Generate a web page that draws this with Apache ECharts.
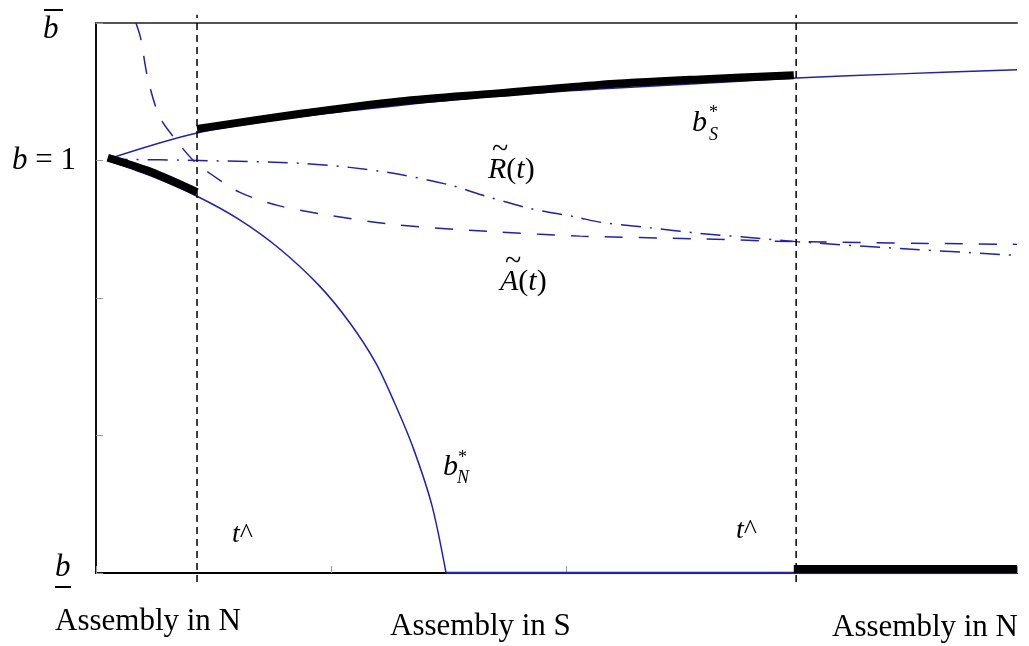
<!DOCTYPE html>
<html>
<head>
<meta charset="utf-8">
<script src="https://cdn.jsdelivr.net/npm/echarts@6/dist/echarts.min.js"></script>
<style>
  html, body { margin: 0; padding: 0; background: #fff; }
  #chart { width: 1029px; height: 646px; }
</style>
</head>
<body>
<div id="chart"></div>
<script>
  // b*_S branch (thin) and its bold equilibrium part
  const tS = [0.05, 0.43, 0.87, 1.29, 1.72, 2.14, 2.57, 2.98, 3.42, 3.92]
  const bS = [3.01, 3.20, 3.32, 3.40, 3.47, 3.52, 3.56, 3.60, 3.63, 3.66]
  const tSBold = [0.43, 0.87, 1.29, 1.72, 2.14, 2.57, 2.97]
  const bSBold = [3.23, 3.34, 3.43, 3.49, 3.55, 3.59, 3.62]

  // b*_N branch, falls to the floor then stays there
  const tN = [0.05, 0.23, 0.43, 0.61, 0.78, 0.95, 1.08, 1.19, 1.27, 1.35, 1.43, 1.49]
  const bN = [3.00, 2.89, 2.74, 2.57, 2.36, 2.09, 1.82, 1.53, 1.24, 0.91, 0.49, 0]
  const tNFloor = [1.49, 3.92]
  const bNFloor = [0, 0]
  const tNBold = [0.05, 0.23, 0.43]
  const bNBold = [3.02, 2.92, 2.77]
  const tFloorBold = [2.97, 3.92]
  const bFloorBold = [0.03, 0.03]

  // A~(t) dashed, R~(t) dash-dot
  const tA = [0.17, 0.19, 0.22, 0.27, 0.34, 0.42, 0.49, 0.61, 0.78, 1.00, 1.29, 1.72, 2.06, 2.57, 2.98, 3.92]
  const aA = [4.00, 3.89, 3.60, 3.32, 3.15, 2.99, 2.90, 2.77, 2.67, 2.60, 2.53, 2.48, 2.45, 2.43, 2.41, 2.39]
  const tR = [0.05, 0.44, 0.87, 1.08, 1.29, 1.51, 1.66, 1.85, 2.04, 2.15, 2.36, 2.57, 2.78, 2.98, 3.42, 3.92]
  const rR = [3.01, 3.00, 2.98, 2.95, 2.90, 2.82, 2.74, 2.65, 2.59, 2.55, 2.51, 2.47, 2.44, 2.41, 2.36, 2.31]

  // switching times t^
  const tHat = [0.43, 2.98]

  const blue = '#1f1fbb'
  const serif = '"Liberation Serif", "Times New Roman", serif'

  function zip (xs, ys) {
    return xs.map((x, i) => [x, ys[i]])
  }

  function curve (xs, ys, style, extra) {
    return Object.assign({
      type: 'line',
      data: zip(xs, ys),
      symbol: 'none',
      silent: true,
      smooth: 0.3,
      lineStyle: style
    }, extra || {})
  }

  let chart = echarts.init(document.getElementById('chart'))

  let series = [
    curve(tS, bS, {color: blue, width: 1.5}),
    curve(tN, bN, {color: blue, width: 1.5}),
    curve(tNFloor, bNFloor, {color: blue, width: 2.5}, {smooth: false}),
    curve(tA, aA, {color: blue, width: 1.5, type: [18, 16]}),
    curve(tR, rR, {color: blue, width: 1.5, type: [20, 9, 2, 9]}),
    curve(tSBold, bSBold, {color: '#000', width: 8, cap: 'butt'}, {z: 5}),
    curve(tNBold, bNBold, {color: '#000', width: 8, cap: 'butt'}, {z: 5}),
    curve(tFloorBold, bFloorBold, {color: '#000', width: 8, cap: 'butt'}, {z: 5, smooth: false})
  ]
  tHat.forEach(t => {
    series.push(curve([t, t], [-0.065, 4.06], {color: '#000', width: 1.5, type: [7, 5]}, {smooth: false, clip: false, z: 6}))
  })

  function txt (x, y, text, size, extra) {
    return {
      type: 'text',
      x: x,
      y: y,
      silent: true,
      style: Object.assign({
        text: text,
        fontSize: size,
        fontFamily: serif,
        fill: '#000',
        verticalAlign: 'middle',
        align: 'left',
        rich: {
          i: {fontStyle: 'italic', fontSize: size, fontFamily: serif}
        }
      }, extra || {})
    }
  }

  function hline (x1, x2, y) {
    return {
      type: 'line',
      silent: true,
      shape: {x1: x1, y1: y, x2: x2, y2: y},
      style: {stroke: '#000', lineWidth: 2}
    }
  }

  let option = {
    animation: false,
    backgroundColor: '#fff',
    grid: {left: 96, right: 12, top: 23, bottom: 73},
    xAxis: [
      {
        type: 'value',
        min: 0,
        max: 3.92,
        interval: 1,
        axisLine: {show: true, lineStyle: {color: '#000', width: 2}},
        axisTick: {show: true, inside: true, length: 7, lineStyle: {color: '#999'}},
        axisLabel: {show: false},
        splitLine: {show: false}
      },
      {
        type: 'value',
        position: 'top',
        min: 0,
        max: 3.92,
        axisLine: {show: true, lineStyle: {color: '#555', width: 2}},
        axisTick: {show: false},
        axisLabel: {show: false},
        splitLine: {show: false}
      }
    ],
    yAxis: {
      type: 'value',
      min: 0,
      max: 4,
      interval: 1,
      axisLine: {show: true, lineStyle: {color: '#111', width: 2}},
      axisTick: {show: true, inside: true, length: 7, lineStyle: {color: '#999'}},
      axisLabel: {show: false},
      splitLine: {show: false}
    },
    series: series,
    graphic: [
      // y labels
      txt(43, 30, '{i|b}', 31),
      hline(44, 63, 10),
      txt(12, 161, '{i|b} = 1', 31),
      txt(55, 568, '{i|b}', 31),
      hline(55, 71, 587),
      // curve labels
      txt(488, 170, '{i|R}({i|t})', 30),
      txt(492, 150, '~', 30),
      txt(500, 282, '{i|A}({i|t})', 30),
      txt(505, 262, '~', 30),
      txt(692, 123, '{i|b}', 30),
      txt(709, 113, '*', 18),
      txt(709, 135, '{i|S}', 18, {rich: {i: {fontStyle: 'italic', fontSize: 18, fontFamily: serif}}}),
      txt(443, 467, '{i|b}', 30),
      txt(458, 458, '*', 18),
      txt(457, 478, '{i|N}', 18, {rich: {i: {fontStyle: 'italic', fontSize: 18, fontFamily: serif}}}),
      // switching times
      txt(232, 535, '{i|t}^', 28),
      txt(736, 531, '{i|t}^', 28),
      // regimes
      txt(55, 622, 'Assembly in N', 31),
      txt(390, 627, 'Assembly in S', 31),
      txt(832, 628, 'Assembly in N', 31)
    ]
  }

  chart.setOption(option)
</script>
</body>
</html>
